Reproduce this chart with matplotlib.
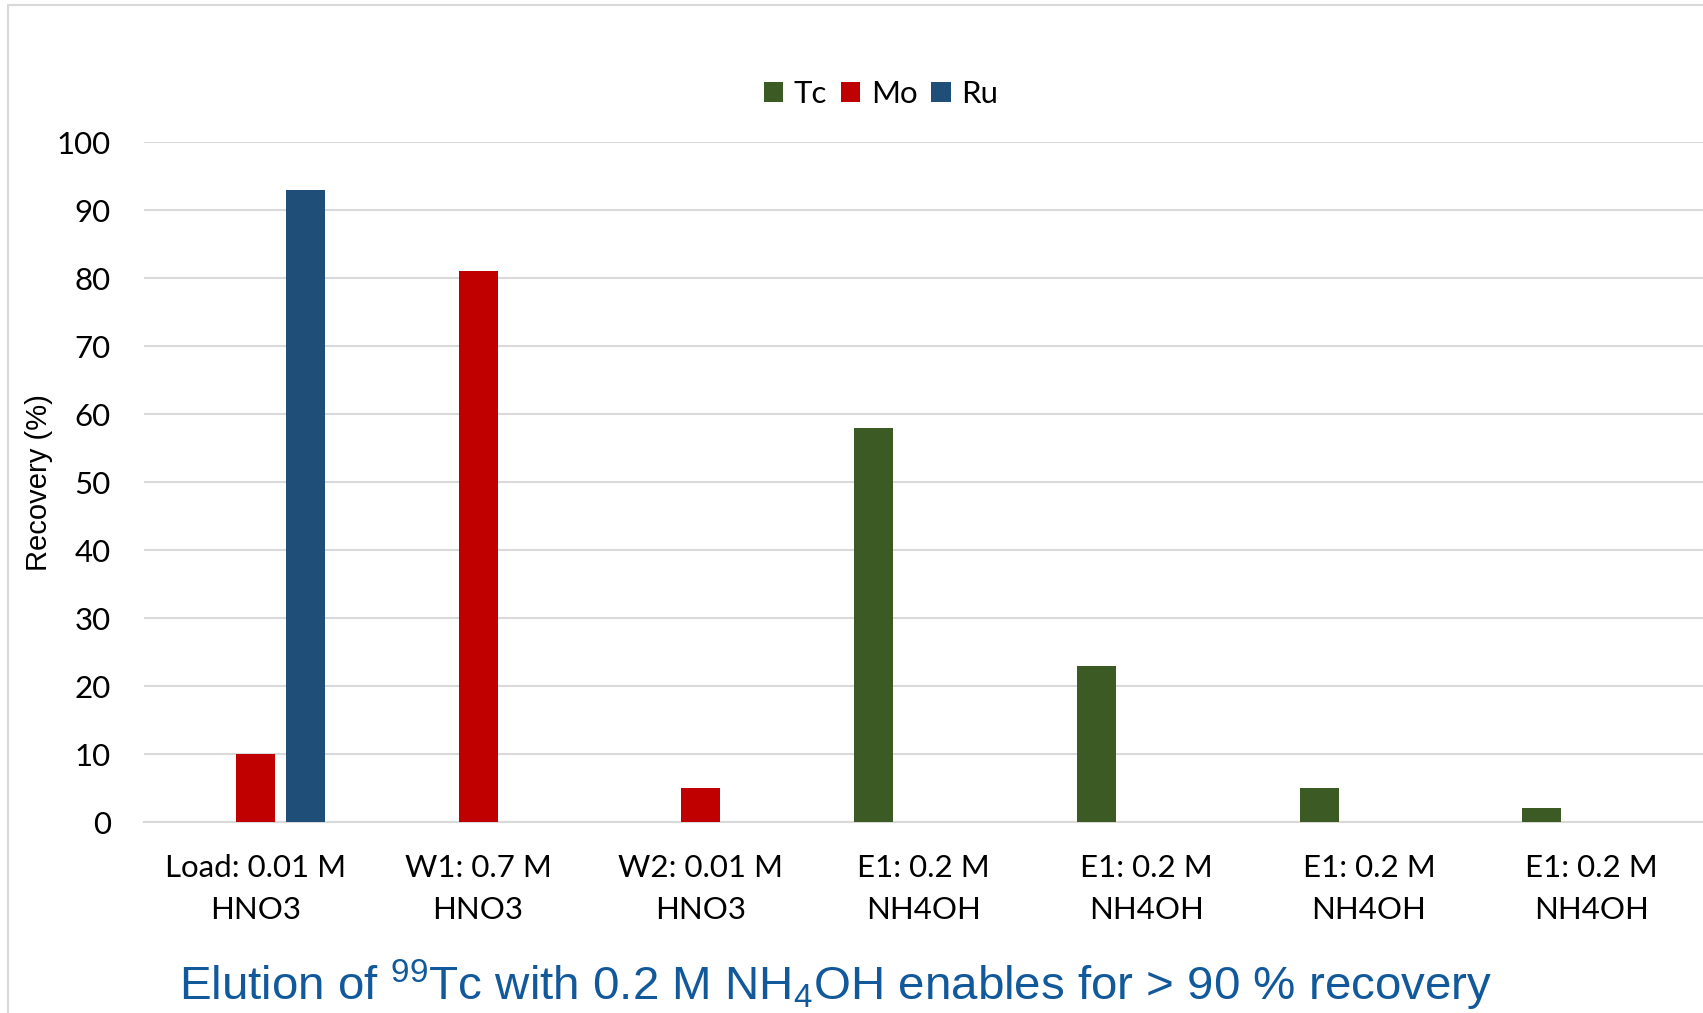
"""
Recovery of Tc, Mo and Ru across the load, wash and elution steps
of the separation column, drawn as a grouped bar chart.
"""

import numpy as np
from matplotlib import pyplot as plt
from matplotlib.patches import Rectangle

WIDTH, HEIGHT = 1703, 1013

# Column steps (x axis) and recovery (%) per element
STEPS = [
    "Load: 0.01 M\nHNO3",
    "W1: 0.7 M\nHNO3",
    "W2: 0.01 M\nHNO3",
    "E1: 0.2 M\nNH4OH",
    "E1: 0.2 M\nNH4OH",
    "E1: 0.2 M\nNH4OH",
    "E1: 0.2 M\nNH4OH",
]
TC = [0, 0, 0, 58, 23, 5, 2]
MO = [10, 81, 5, 0, 0, 0, 0]
RU = [93, 0, 0, 0, 0, 0, 0]
SERIES = {"Tc": TC, "Mo": MO, "Ru": RU}
COLORS = {"Tc": "#3B5A24", "Mo": "#C00000", "Ru": "#1F4E79"}
Y_TICKS = [0, 10, 20, 30, 40, 50, 60, 70, 80, 90, 100]

GRID = "#D9D9D9"
LABEL_FONT = "Lato"

plt.rcParams["mathtext.fontset"] = "custom"
plt.rcParams["mathtext.rm"] = "Liberation Sans"
plt.rcParams["mathtext.it"] = "Liberation Sans"

fig = plt.figure(figsize=(WIDTH / 100, HEIGHT / 100), dpi=100)
ax = fig.add_axes(
    [144 / WIDTH, 1 - 822 / HEIGHT, 1 - 144 / WIDTH, (822 - 142) / HEIGHT]
)

x = np.arange(len(STEPS))
bar_width = 0.175
offsets = {"Tc": -0.224, "Mo": 0.0, "Ru": 0.224}
for name, values in SERIES.items():
    ax.bar(
        x + offsets[name],
        values,
        width=bar_width,
        color=COLORS[name],
        label=name,
        zorder=3,
    )

ax.set_xlim(-0.5, len(STEPS) - 0.5)
ax.set_ylim(0, 100)
ax.set_yticks(Y_TICKS)
ax.set_yticklabels([str(t) for t in Y_TICKS], fontname=LABEL_FONT, fontsize=22.5)
ax.set_xticks(x)
ax.set_xticklabels(STEPS, fontname=LABEL_FONT, fontsize=22.5, linespacing=1.6)
ax.tick_params(axis="both", length=0, colors="black")
ax.tick_params(axis="y", pad=24)
ax.tick_params(axis="x", pad=23)
ax.grid(axis="y", color=GRID, linewidth=1.5, zorder=0)
for side in ["top", "right", "left"]:
    ax.spines[side].set_visible(False)
ax.spines["bottom"].set_color(GRID)
ax.spines["bottom"].set_linewidth(1.5)

fig.text(
    39 / WIDTH,
    1 - 483 / HEIGHT,
    "Recovery (%)",
    rotation=90,
    ha="center",
    va="center",
    fontname="Liberation Sans",
    fontsize=21,
)

ax.legend(
    loc="center",
    bbox_to_anchor=(881 / WIDTH, 1 - 94 / HEIGHT),
    bbox_transform=fig.transFigure,
    ncol=3,
    frameon=False,
    prop={"family": LABEL_FONT, "size": 22.5},
    handlelength=0.62,
    handleheight=0.62,
    handletextpad=0.33,
    columnspacing=0.45,
    borderpad=0,
)

fig.text(
    836 / WIDTH,
    1 - 1000 / HEIGHT,
    r"Elution of $^{99}$Tc with 0.2 M NH$_4$OH enables for > 90 % recovery",
    ha="center",
    va="baseline",
    fontname="Liberation Sans",
    fontsize=34.2,
    color="#11599B",
)

# light frame around the chart area
fig.patches.append(
    Rectangle(
        (8 / WIDTH, -0.2),
        1.5,
        1.2 - 5 / HEIGHT,
        transform=fig.transFigure,
        fill=False,
        edgecolor=GRID,
        linewidth=1.5,
    )
)

fig.savefig("out.png", dpi=100)
